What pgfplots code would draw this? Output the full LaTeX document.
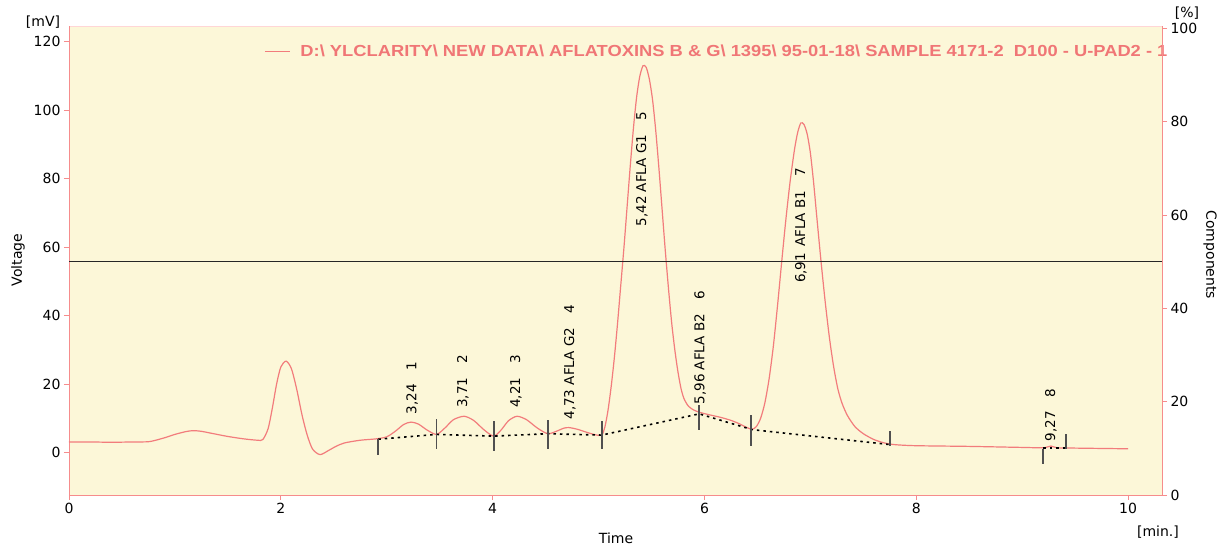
\documentclass[border=0pt]{standalone}
\usepackage{fontspec}
\setmainfont{DejaVu Sans}
\usepackage{graphicx}
\usepackage{pgfplots}
\pgfplotsset{compat=1.18}
\newfontfamily\legfont{Liberation Sans}

\definecolor{plotbg}{RGB}{252,247,216}
\definecolor{trace}{RGB}{242,124,124}
\definecolor{legtext}{RGB}{240,118,118}
\definecolor{axisred}{RGB}{246,140,140}
\definecolor{framepink}{RGB}{255,214,214}
\definecolor{marks}{RGB}{80,80,80}

\pgfplotsset{
  chrom/.style={
    width=1093pt, height=469pt, scale only axis,
    xmin=0, xmax=10.32,
    tick align=outside, major tick length=5pt,
    tick style={axisred, line width=0.8pt},
    /pgf/number format/assume math mode=true,
    tick label style={font=\fontsize{14}{16}\selectfont},
    label style={font=\fontsize{14}{16}\selectfont},
  }
}

\begin{document}
\begin{tikzpicture}
\useasboundingbox (-69pt,-52pt) rectangle (1153pt,495pt);

\begin{axis}[chrom,
  ymin=-12.4, ymax=124.6,
  axis background/.style={fill=plotbg},
  axis line style={draw=framepink, line width=0.8pt},
  xtick={0,2,...,10}, ytick={0,20,...,120},
  xtick pos=bottom, ytick pos=left,
  xlabel={Time},
  xlabel style={at={(axis description cs:0.5005,-0.092)}, anchor=center},
  ylabel={Voltage},
  ylabel style={at={(axis description cs:-0.0467,0.501)}, anchor=center},
  legend style={at={(axis description cs:1.007,0.945)}, anchor=east,
    draw=none, fill=none, font=\legfont\bfseries\fontsize{16}{18}\selectfont,
    text=legtext, inner sep=0pt},
  legend image code/.code={\draw[trace, line width=1.2pt] (0pt,0pt) -- (25pt,0pt);},
  clip=false,
]
% bottom and left axis lines in red
\draw[axisred, line width=0.9pt] (rel axis cs:0,0) -- (rel axis cs:1,0);
\draw[axisred, line width=0.9pt] (rel axis cs:0,0) -- (rel axis cs:0,1);

% detector trace
\addplot[trace, line width=1.2pt, smooth, tension=0.45] coordinates {
(0,3.1)(0.2,3.1)(0.4,3.0)(0.6,3.1)(0.76,3.2)(0.9,4.3)(1.0,5.3)(1.1,6.1)
(1.17,6.4)(1.25,6.2)(1.35,5.6)(1.5,4.7)(1.65,4.0)(1.78,3.6)(1.83,3.8)
(1.88,7)(1.92,13)(1.96,20)(2.00,25)(2.05,26.7)(2.10,24.5)(2.15,18.5)
(2.20,11)(2.25,5)(2.30,1)(2.37,-0.6)(2.45,0.6)(2.52,1.8)(2.60,2.8)
(2.75,3.6)(2.90,4.0)(3.00,4.6)(3.08,6.2)(3.16,8.2)(3.23,8.9)(3.30,8.3)
(3.38,6.6)(3.47,5.3)(3.55,7.2)(3.63,9.6)(3.73,10.6)(3.82,9.4)(3.92,6.6)
(4.01,4.8)(4.08,6.6)(4.15,9.3)(4.23,10.6)(4.32,9.6)(4.42,7.2)(4.52,5.5)
(4.60,6.2)(4.67,7.1)(4.72,7.3)(4.80,6.8)(4.90,5.8)(4.97,5.2)(5.03,5.1)
(5.06,7.5)(5.09,12.5)(5.12,19.5)(5.15,28)(5.18,38)(5.21,49)(5.24,60)
(5.27,72)(5.30,84)(5.33,95)(5.36,104)(5.39,110)(5.42,113)(5.45,112.5)
(5.48,109)(5.51,103)(5.54,94)(5.57,83)(5.60,71)(5.63,59)(5.66,48)
(5.69,38)(5.72,30)(5.75,23.5)(5.78,18.5)(5.81,15.5)(5.85,13.5)(5.90,12.4)
(5.96,11.7)(6.05,11.0)(6.15,10.3)(6.25,9.4)(6.33,8.4)(6.40,7.3)(6.45,6.8)
(6.49,7.6)(6.53,10)(6.57,14.5)(6.61,21.5)(6.65,31)(6.69,43)(6.73,56)
(6.77,68.5)(6.81,79.5)(6.85,88.5)(6.88,93.5)(6.91,96.3)(6.94,95.8)(6.97,93)
(7.00,87.5)(7.03,79)(7.06,69)(7.10,56)(7.14,44)(7.18,33.5)(7.22,25)
(7.26,18.5)(7.30,14.3)(7.35,10.8)(7.42,7.6)(7.50,5.5)(7.60,3.8)(7.70,2.8)
(7.80,2.3)(8.0,2.0)(8.5,1.8)(9.0,1.5)(9.2,1.4)(9.27,1.9)(9.33,1.4)
(9.5,1.3)(10.0,1.1)
};
\addlegendentry{\hspace{8pt}\resizebox{867pt}{\height}{D:\textbackslash\ YLCLARITY\textbackslash\ NEW DATA\textbackslash\ AFLATOXINS B \& G\textbackslash\ 1395\textbackslash\ 95-01-18\textbackslash\ SAMPLE 4171-2\ \ D100 - U-PAD2 - 1}}

% integration baseline
\addplot[black, line width=1.6pt, dash pattern=on 2.5pt off 4pt, forget plot] coordinates {
(2.92,3.9)(3.47,5.3)(4.01,4.8)(4.52,5.5)(5.03,5.1)(5.95,11.3)(6.45,6.7)(7.76,2.3)};
\addplot[black, line width=1.6pt, dash pattern=on 2.5pt off 4pt, forget plot] coordinates {
(9.2,1.3)(9.41,1.3)};

% peak start/end marks
\addplot[draw=none, forget plot, mark=none,
  error bars/.cd, y dir=both, y explicit,
  error mark=none, error bar style={marks, line width=1.8pt}] coordinates {
(2.92,1.7) +- (0,2.3)
(3.47,5.45) +- (0,4.35)
(4.01,4.75) +- (0,4.35)
(4.52,5.35) +- (0,4.25)
(5.03,5.0) +- (0,4.1)
(5.95,10.35) +- (0,3.65)
(6.44,6.55) +- (0,4.55)
(7.75,4.2) +- (0,2.2)
(9.2,-1.05) +- (0,2.15)
(9.41,3.2) +- (0,2.3)
};

% peak labels
\begin{scope}[every node/.style={rotate=90, anchor=west, inner sep=0pt,
    font=\fontsize{13.5}{15}\selectfont}]
\node at (axis cs:3.24,11.1) {3,24\hspace{14pt}1};
\node at (axis cs:3.72,13) {3,71\hspace{14pt}2};
\node at (axis cs:4.22,13) {4,21\hspace{14pt}3};
\node at (axis cs:4.73,9.6) {4,73 AFLA G2\hspace{14pt}4};
\node at (axis cs:5.41,66) {5,42 AFLA G1\hspace{14pt}5};
\node at (axis cs:5.96,14) {5,96 AFLA B2\hspace{14pt}6};
\node at (axis cs:6.91,49.5) {6,91\hspace{6pt}AFLA B1\hspace{14pt}7};
\node at (axis cs:9.27,3.3) {9,27\hspace{14pt}8};
\end{scope}

\node[font=\fontsize{14}{16}\selectfont] at (axis description cs:-0.0238,1.0085) {[mV]};
\node[font=\fontsize{14}{16}\selectfont] at (axis description cs:0.9963,-0.080) {[min.]};
\end{axis}

\begin{axis}[chrom,
  ymin=0, ymax=100.5,
  axis x line=none, axis y line*=right,
  axis line style={draw=axisred, line width=0.9pt},
  ytick={0,20,...,100},
  ylabel={Components},
  ylabel style={at={(axis description cs:1.044,0.512)}, anchor=center, rotate=180},
  clip=false,
]
\addplot[black!85, line width=1.3pt] coordinates {(0,50)(10.32,50)};
\node[font=\fontsize{14}{16}\selectfont] at (axis description cs:1.0229,1.028) {[\%]};
\end{axis}
\end{tikzpicture}
\end{document}
